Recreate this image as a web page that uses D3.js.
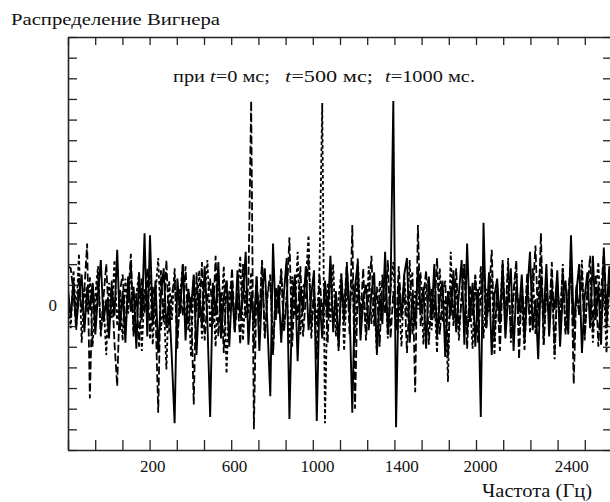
<!DOCTYPE html>
<html>
<head>
	<meta charset="utf-8">
	<title>Распределение Вигнера</title>
	<script src="https://d3js.org/d3.v7.min.js"></script>
	<style>
		html, body {
			margin: 0;
			background: white;
		}
		text {
			font-family: "Liberation Serif", "Times New Roman", serif;
			fill: #111;
		}
	</style>
</head>
<body>
	<svg id="svg"></svg>
	<script>
		// values, y in axis units (zero line = 0)
		const series0 = [ // t = 0 ms, dashed
			1.9, 1.8, 0.6, -1.2, 1.4, -0.3, 0.8, 3.0, -4.5, 1.1,
			-0.7, 1.6, -1.5, 0.4, 2.0, -0.9, 1.2, -1.8, -3.9, 0.7,
			1.5, -1.0, 0.3, 2.5, -1.4, 0.6, -2.0, 1.3, -0.4, 1.8,
			-1.6, 0.9, -0.2, -5.2, 1.7, -0.8, 2.2, -1.3, 0.5, 1.4,
			-2.1, 0.8, -0.5, 1.9, -1.2, 0.4, -4.8, 1.6, -0.6, 2.1,
			-1.7, 0.3, 1.3, -0.9, 2.4, -1.5, 0.7, -2.3, 1.2, -0.3,
			1.8, -1.1, 0.5, -1.9, 2.0, -0.6, 1.1, 9.9, -6.0, 1.4,
			-0.8, 2.2, -1.6, 0.6, 1.5, -2.4, 0.9, -0.4, 1.7, -1.3,
			0.3, 3.3, -2.0, 1.0, -0.7, 1.9, -1.5, 0.4, 2.3, -1.1,
			0.8, -2.6, 1.5, -0.5, 1.1, -1.8, 2.0, -0.9, 0.6, -2.2,
			1.4, -0.3, 2.1, -1.4, 3.9, -5.0, 1.2, -0.6, 1.8, -1.7,
			0.5, 2.4, -1.0, 0.9, -2.0, 1.5, -0.4, 2.2, -1.6, 0.7,
			-1.2, 1.9, -0.5, 1.0, -2.3, 0.6, 1.6, -4.2, 3.9, -1.0,
			0.4, 1.7, -1.9, 0.8, -0.6, 2.3, -1.4, 0.5, 1.2, -2.5,
			0.9, -0.7, 1.8, -1.2, 0.3, 2.0, -2.1, 1.0, -0.5, 1.5,
			-1.8, 0.6, 2.1, -1.1, 0.4, 2.7, -1.6, 0.8, -2.2, 1.3,
			-0.4, 1.9, -1.5, 0.7, 2.2, -2.6, 1.1, -0.8, 1.6, -1.3,
			0.5, 2.9, -1.0, 3.5, -1.9, 0.9, -0.6, 2.1, -2.4, 1.2,
			-0.9, 1.8, -1.4, 0.6, 2.3, -3.8, 1.0, -0.5, 1.7, -1.7,
			0.8, 2.4, -1.2, 1.5, -2.0, 0.6, 2.6, -1.1, 1.4, -0.6
		];

		const series500 = [ // t = 500 ms, short dashes
			0.4, -1.1, 1.7, -0.5, 2.5, -1.8, 0.9, -0.3, 1.4, -2.0,
			0.6, 1.9, -1.3, 0.2, -2.4, 1.1, -0.6, 2.2, -1.0, 0.7,
			-1.7, 1.3, -0.4, 2.0, -1.5, 0.5, 1.6, -2.2, 0.8, -0.2,
			1.5, -1.9, 0.6, 2.3, -1.2, 0.3, -3.1, 1.2, -0.7, 1.8,
			-1.4, 0.5, 2.0, -1.0, 0.8, -2.5, 1.4, -0.3, 1.7, -1.6,
			0.4, 2.2, -1.1, 0.9, -2.0, 1.5, -0.5, 1.9, -3.3, 0.6,
			1.2, -1.3, 0.3, 2.4, -1.7, 0.7, -0.4, 1.6, -2.1, 1.0,
			-0.6, 2.1, -1.5, 0.5, 1.3, -2.3, 0.8, -0.2, 1.8, -1.2,
			0.6, -1.9, 1.4, -0.5, 2.6, -1.4, 0.9, 1.2, 3.4, -1.6,
			0.7, -1.0, 1.8, 9.8, -5.7, 1.1, -0.8, 2.0, -1.5, 0.4,
			1.6, -2.2, 0.9, -0.4, 1.3, -1.8, 2.3, -0.7, 0.5, -1.3,
			1.9, -0.9, 0.6, -2.4, 1.2, -0.3, 1.7, -1.6, 0.8, 2.1,
			-1.1, 0.4, -2.0, 1.5, -0.6, 2.2, -1.4, 0.7, -0.2, 1.6,
			-1.9, 0.9, 1.3, -1.2, 0.5, -2.3, 1.8, -0.8, 0.3, -3.7,
			2.6, -1.0, 1.1, -1.7, 0.6, 2.0, -1.3, 0.4, -2.1, 1.4,
			-0.5, 1.9, -1.6, 0.8, -0.3, 1.5, -2.4, 1.0, -0.7, 2.2,
			-1.2, 2.3, -1.8, 0.5, 1.7, -1.0, 0.3, -2.2, 1.3, -0.6,
			1.8, -1.4, 0.7, 2.4, -1.9, 0.6, -0.4, 1.5, -2.6, 1.1,
			-0.8, 2.0, -1.3, 0.4, 1.6, -2.0, 0.9, -0.5, 2.2, -1.5,
			0.7, 1.3, -1.8, 0.5, 2.1, -1.2, 0.8, -2.3, 1.7, -0.4
		];

		const series1000 = [ // t = 1000 ms, solid
			0.8, -0.6, 1.2, -1.0, 0.4, 1.5, -1.3, 0.9, -0.2, 1.1,
			-1.4, 0.6, 2.2, -0.8, 0.3, -1.6, 1.0, -0.5, 2.7, -1.2,
			0.7, -1.8, 1.4, -0.3, 0.9, -2.1, 1.6, -0.7, 3.5, -1.5,
			3.4, -0.9, 1.2, -2.3, 0.5, 1.8, -1.1, 0.2, -2.6, -5.7,
			1.3, -0.4, 2.0, -1.7, 0.8, -0.2, 1.5, -2.4, 0.6, -1.0,
			1.9, -0.8, -5.4, 1.1, -0.5, 2.1, -1.6, 0.4, 1.2, -2.0,
			0.9, -1.3, 1.7, -0.6, 0.3, 2.6, -1.9, 0.5, -0.9, 1.4,
			-2.2, 0.7, 1.8, -1.1, -4.4, 3.0, -0.7, 1.0, -1.8, 0.6,
			2.3, -5.5, 0.2, 1.5, -2.7, 0.8, -0.3, 1.9, -1.2, 0.5,
			1.7, -5.6, 0.4, -1.6, 1.2, -0.5, 2.4, -1.3, 0.7, -2.0,
			1.3, -0.8, 1.9, -0.2, -5.2, 0.9, 2.1, -1.7, 0.3, 1.0,
			-1.2, 0.6, 1.6, -2.3, 0.4, -0.9, 2.6, -1.4, 0.8, 9.9,
			-5.9, 1.1, -0.6, 1.5, 2.3, -1.8, 0.5, -1.0, 1.8, -0.4,
			0.9, -2.1, 1.4, -0.7, 2.0, -1.5, 0.3, 1.2, -2.5, 0.7,
			-0.5, 1.7, -1.3, 0.6, 2.2, -1.9, 3.0, -0.8, 1.1, -2.0,
			0.8, -5.4, 4.0, -1.1, 1.6, -2.4, 0.5, 1.3, -0.9, 2.1,
			-1.6, 0.4, 1.8, -2.2, 0.9, -0.3, 1.5, -1.8, 0.6, 2.6,
			-1.2, 0.3, -2.6, 1.4, -0.6, 2.0, -1.5, 0.8, -0.2, 1.7,
			-2.0, 0.5, 1.2, -1.4, 3.4, -1.0, 0.7, 2.0, -2.3, 0.4,
			1.6, -1.1, 2.4, -0.7, 1.0, -1.9, 2.8, -0.5, 1.9, -1.3
		];

		const seriesList = [
			{ name: "t=0", values: series0, dash: "8,3", width: 1.8 },
			{ name: "t=500", values: series500, dash: "3.5,2.5", width: 1.8 },
			{ name: "t=1000", values: series1000, dash: null, width: 1.9 }
		];

		const xTickLabels = ["200", "600", "1000", "1400", "2000", "2400"];
		const xLabelDivs = [3.1, 6.1, 9.15, 12.25, 15.15, 18.5]; // where each label sits, in axis divisions
		const xDivisions = d3.range(0, 21);
		const yTicks = d3.range(-7, 14);

		const width = 610, height = 502;
		const plot = { left: 68, right: 612, top: 37, bottom: 450 };

		const svg = d3.select("#svg")
		.attr("width", width)
		.attr("height", height);

		const xDiv = d3.scaleLinear()
		.domain([0, 20])
		.range([plot.left, plot.right]);

		const y = d3.scaleLinear()
		.domain([-7, 13])
		.range([plot.bottom, plot.top]);

		svg.append("clipPath")
		.attr("id", "clip")
		.append("rect")
		.attr("x", plot.left)
		.attr("y", plot.top)
		.attr("width", plot.right - plot.left)
		.attr("height", plot.bottom - plot.top);

		const lines = svg.append("g").attr("clip-path", "url(#clip)");

		seriesList.forEach(s => {
			const xi = d3.scaleLinear().domain([0, s.values.length - 1]).range([0, 20]);
			const line = d3.line()
			.x((d, i) => xDiv(xi(i)))
			.y(d => y(d));

			lines.append("path")
			.attr("fill", "none")
			.attr("stroke", "#000")
			.attr("stroke-width", s.width)
			.attr("stroke-dasharray", s.dash)
			.attr("d", line(s.values));
		});

		// frame with inward ticks
		const styleAxis = g => {
			g.select(".domain").attr("stroke", "#222").attr("stroke-width", 1.6);
			g.selectAll(".tick line").attr("stroke", "#222").attr("stroke-width", 1.3);
			g.selectAll("text")
			.style("font-family", "'Liberation Serif', serif")
			.style("font-size", "17px")
			.attr("fill", "#111");
		};

		svg.append("g")
		.attr("transform", `translate(0, ${plot.bottom})`)
		.call(d3.axisBottom(xDiv).tickValues(xDivisions).tickSizeInner(-10).tickSizeOuter(0).tickFormat(""))
		.call(styleAxis);

		svg.append("g")
		.attr("transform", `translate(0, ${plot.top})`)
		.call(d3.axisTop(xDiv).tickValues(xDivisions).tickSizeInner(-8).tickSizeOuter(0).tickFormat(""))
		.call(styleAxis);

		svg.append("g")
		.attr("transform", `translate(${plot.left}, 0)`)
		.call(d3.axisLeft(y).tickValues(yTicks).tickSizeInner(-9).tickSizeOuter(0)
			.tickPadding(11).tickFormat(d => d === 0 ? "0" : ""))
		.call(styleAxis);

		svg.append("g")
		.attr("transform", `translate(${plot.right - 1}, 0)`)
		.call(d3.axisRight(y).tickValues(yTicks).tickSizeInner(-8).tickSizeOuter(0).tickFormat(""))
		.call(styleAxis);

		// frequency labels
		svg.append("g")
		.attr("transform", `translate(0, ${plot.bottom})`)
		.call(d3.axisBottom(xDiv).tickValues(xLabelDivs).tickSize(0).tickPadding(10)
			.tickFormat((d, i) => xTickLabels[i]))
		.call(g => g.select(".domain").remove())
		.call(styleAxis);

		svg.append("text")
		.attr("x", 11)
		.attr("y", 25)
		.attr("textLength", 209)
		.attr("lengthAdjust", "spacingAndGlyphs")
		.style("font-size", "17px")
		.text("Распределение Вигнера");

		svg.append("text")
		.attr("x", 482)
		.attr("y", 497)
		.attr("textLength", 110)
		.attr("lengthAdjust", "spacingAndGlyphs")
		.style("font-size", "18px")
		.text("Частота (Гц)");

		const notes = [
			{ x: 173, len: 97, pre: "при ", post: "=0 мс;" },
			{ x: 285, len: 88, pre: "", post: "=500 мс;" },
			{ x: 385, len: 90, pre: "", post: "=1000 мс." }
		];

		notes.forEach(n => {
			const t = svg.append("text")
			.attr("x", n.x)
			.attr("y", 82)
			.attr("textLength", n.len)
			.attr("lengthAdjust", "spacingAndGlyphs")
			.style("font-size", "17.5px");
			t.append("tspan").text(n.pre);
			t.append("tspan").style("font-style", "italic").text("t");
			t.append("tspan").text(n.post);
		});
	</script>
</body>
</html>
